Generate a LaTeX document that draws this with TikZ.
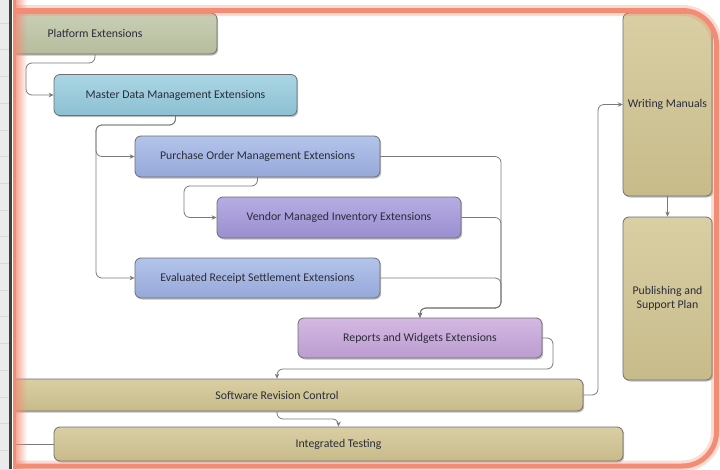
\documentclass[tikz,border=0pt]{standalone}
\usepackage{fontspec}
\setmainfont{Carlito}
\usetikzlibrary{arrows.meta,shadows,fadings}
\definecolor{pea}{HTML}{C9CFB5}\definecolor{peb}{HTML}{B5BD9D}
\definecolor{mda}{HTML}{AAD6E3}\definecolor{mdb}{HTML}{8CC0D2}
\definecolor{poa}{HTML}{B3C4EB}\definecolor{pob}{HTML}{96A8D8}
\definecolor{vma}{HTML}{B7ADE3}\definecolor{vmb}{HTML}{9A8ECF}
\definecolor{rwa}{HTML}{D4B9E2}\definecolor{rwb}{HTML}{BB9CCF}
\definecolor{tna}{HTML}{D9CFA4}\definecolor{tnb}{HTML}{C7BB8A}
\definecolor{boxline}{HTML}{6E6E6E}
\definecolor{connc}{HTML}{7A7A7A}
\definecolor{txt}{HTML}{2A2C3A}
\definecolor{salmon}{HTML}{F28C74}
\newcommand{\boxfont}{\fontsize{11.8}{13.5}\selectfont}
\tikzset{
  box/.style={draw=boxline, line width=0.8pt, rounded corners=6pt,
    drop shadow={shadow xshift=1.2pt, shadow yshift=-1.5pt, opacity=0.25, fill=black},
    text=txt, font=\boxfont, inner sep=0pt, align=center},
  conn/.style={draw=connc, line width=0.8pt, rounded corners=6pt},
  arr/.style={conn, -{Stealth[length=5pt,width=4.5pt]}},
}
\begin{document}
\begin{tikzpicture}[x=1pt,y=-1pt]
\useasboundingbox (0,0) rectangle (720,469);
\fill[white] (0,0) rectangle (720,469);
% boxes
\node[box, top color=pea, bottom color=peb, minimum width=244pt, minimum height=41pt] (pe) at (95,33.5) {Platform Extensions};
\node[box, top color=mda, bottom color=mdb, minimum width=243pt, minimum height=41pt] (mdm) at (175.5,95) {Master Data Management Extensions};
\node[box, top color=poa, bottom color=pob, minimum width=245pt, minimum height=41pt] (pom) at (257.5,156.5) {Purchase Order Management Extensions};
\node[box, top color=vma, bottom color=vmb, minimum width=244pt, minimum height=41pt] (vmi) at (339,217.5) {Vendor Managed Inventory Extensions};
\node[box, top color=poa, bottom color=pob, minimum width=245pt, minimum height=40pt] (ers) at (257.5,278) {Evaluated Receipt Settlement Extensions};
\node[box, top color=rwa, bottom color=rwb, minimum width=244pt, minimum height=40pt] (rwe) at (420,338) {Reports and Widgets Extensions};
\node[box, top color=tna, bottom color=tnb, minimum width=612pt, minimum height=32pt] (src) at (277,395) {Software Revision Control};
\node[box, top color=tna, bottom color=tnb, minimum width=569pt, minimum height=34pt] (it) at (338.5,444) {Integrated Testing};
\path[draw=boxline, line width=0.8pt, top color=tna, bottom color=tnb,
    drop shadow={shadow xshift=1.2pt, shadow yshift=-1.5pt, opacity=0.25, fill=black}]
  (629,13) -- (692,13) arc[start angle=270, end angle=360, radius=20]
  -- (712,190) arc[start angle=0, end angle=90, radius=6]
  -- (629,196) arc[start angle=90, end angle=180, radius=6]
  -- (623,19) arc[start angle=180, end angle=270, radius=6] -- cycle;
\node[text=txt, font=\boxfont, inner sep=0pt, minimum width=89pt, minimum height=183pt] (wm) at (667.5,104.5) {Writing Manuals};
\node[box, top color=tna, bottom color=tnb, minimum width=89pt, minimum height=163pt] (psp) at (667.5,298.5) {Publishing and\\Support Plan};
% connectors
\draw[arr] (pe.south) -- (95,63) -- (26,63) -- (26,95) -- (mdm.west);
\draw[arr] (mdm.south) -- (175.5,125) -- (96,125) -- (96,156.5) -- (pom.west);
\draw[arr] (mdm.south) -- (175.5,125) -- (96,125) -- (96,278) -- (ers.west);
\draw[arr] (pom.south) -- (257.5,186) -- (184,186) -- (184,217.5) -- (vmi.west);
\draw[arr] (pom.east) -- (501,156.5) -- (501,308) -- (420,308) -- (rwe.north);
\draw[arr] (vmi.east) -- (501,217.5) -- (501,308) -- (420,308) -- (rwe.north);
\draw[arr] (ers.east) -- (501,278) -- (501,308) -- (420,308) -- (rwe.north);
\draw[arr] (rwe.east) -- (553,338) -- (553,369) -- (277,369) -- (src.north);
\draw[arr] (src.south) -- (277,419) -- (338.5,419) -- (it.north);
\draw[arr] (src.east) -- (598,395) -- (598,104.5) -- (wm.west);
\draw[arr] (wm.south) -- (psp.north);
\coordinate (itin) at (13,444);
\draw[conn] (itin) -- (it.west);
% frame of the screenshot
\draw[salmon, opacity=0.3, line width=11pt, rounded corners=34pt] (-40,10.5) rectangle (716.5,466);
\draw[salmon, line width=5pt, rounded corners=34pt] (-40,10.5) rectangle (716.5,466);
\fill[salmon, path fading=east] (12,0) rectangle (27,469);
\fill[salmon] (12,0) rectangle (16,469);
\fill[black!8] (0,0) rectangle (9,469);
\foreach \yy in {23,49.7,...,460} \draw[black!15, line width=0.5pt] (0,\yy) -- (9,\yy);
\fill[black!75] (9,0) rectangle (11.5,469);
\fill[white] (11.5,0) rectangle (12.5,469);
\end{tikzpicture}
\end{document}
